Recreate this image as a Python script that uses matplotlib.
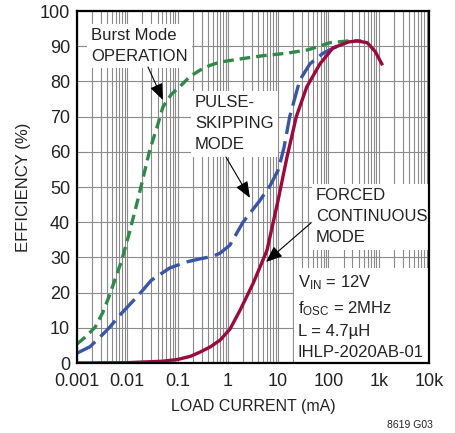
import numpy as np
import matplotlib
matplotlib.use("Agg")
import matplotlib.pyplot as plt

# === data (load current in mA, efficiency in %) ===
burst_x = [0.001, 0.0015, 0.0023, 0.0033, 0.0045, 0.0078, 0.011, 0.0163, 0.028, 0.04, 0.051,
           0.075, 0.112, 0.18, 0.28, 0.45, 0.7, 2, 5, 14.8, 40, 107, 250, 450]
burst_y = [5.4, 7.5, 10.2, 14.5, 19.5, 29.3, 37, 46.5, 60.5, 67.5, 72.7,
           76.3, 78.6, 81.5, 83.2, 84.6, 85.5, 86.5, 87.3, 88, 89, 91, 91.5, 91.5]

pulse_x = [0.001, 0.0018, 0.0029, 0.0045, 0.0071, 0.011, 0.018, 0.03, 0.07, 0.15, 0.28, 0.5,
           0.7, 1.1, 2.0, 4.4, 7, 10, 13, 17, 27, 43, 78, 150]
pulse_y = [2.8, 4.6, 7.4, 10.2, 13.6, 16.5, 19.8, 23.5, 27, 28.7, 29.6, 30.3,
           31.2, 33.5, 40, 46.3, 50.5, 54.8, 61, 70, 80.4, 85, 88, 90]

forced_x = [0.001, 0.01, 0.05, 0.1, 0.18, 0.28, 0.45, 0.7, 1.1, 1.75, 3.2, 6, 10,
            15, 23, 37, 68, 123, 250, 370, 590, 850, 1150]
forced_y = [0, 0.1, 0.5, 1, 1.9, 3.1, 4.6, 6.5, 9.6, 15, 22.7, 32, 46.3,
            58.5, 70, 78.4, 85, 89.5, 91.2, 91.5, 91, 88.5, 85]

xticks = [0.001, 0.01, 0.1, 1, 10, 100, 1000, 10000]
xticklabels = ["0.001", "0.01", "0.1", "1", "10", "100", "1k", "10k"]
yticks = list(range(0, 101, 10))

plt.rcParams["font.family"] = ["Liberation Sans", "DejaVu Sans"]
plt.rcParams["mathtext.fontset"] = "custom"
plt.rcParams["mathtext.rm"] = "Liberation Sans"
plt.rcParams["mathtext.it"] = "Liberation Sans"

fig = plt.figure(figsize=(4.56, 4.33), dpi=100)
ax = fig.add_axes([77 / 456, 70 / 433, 352 / 456, 352 / 433])

ax.set_xscale("log")
ax.set_xlim(0.001, 10000)
ax.set_ylim(0, 100)

# log grid drawn explicitly: each decade with its 2..9 steps, and every 10 %
grid_kw = dict(color="#8a8a8a", linewidth=0.8, zorder=1)
for dec in xticks[:-1]:
    for m in range(1, 10):
        ax.axvline(dec * m, **grid_kw)
for yv in yticks:
    ax.axhline(yv, **grid_kw)

ax.plot(burst_x, burst_y, color="#2f8a4a", lw=2.4, dashes=(3.2, 1.8), zorder=3)
ax.plot(pulse_x, pulse_y, color="#3a55a8", lw=2.4, dashes=(6.5, 2.2), zorder=3)
ax.plot(forced_x, forced_y, color="#9b0a3e", lw=2.4, zorder=4)

ax.set_xticks(xticks)
ax.set_xticklabels(xticklabels)
ax.set_yticks(yticks)
ax.minorticks_off()
ax.tick_params(which="both", length=0, labelsize=13, colors="#222222")
ax.tick_params(axis="x", pad=7)
ax.tick_params(axis="y", pad=5)
for s in ax.spines.values():
    s.set_linewidth(1.6)
    s.set_zorder(6)

ax.set_xlabel("LOAD CURRENT (mA)", fontsize=11.5, color="#222222", labelpad=7)
ax.set_ylabel("EFFICIENCY (%)", fontsize=12, color="#222222", labelpad=6)

box = dict(boxstyle="square,pad=0.25", fc="white", ec="none")
txt_kw = dict(fontsize=12, color="#222222", ha="left", va="center",
              linespacing=1.5, bbox=box, zorder=5)
arr = dict(arrowstyle="-|>,head_length=1.0,head_width=0.4", color="black", lw=0.8,
           shrinkA=0, shrinkB=0)

ax.text(0.00189, 90.0, "Burst Mode\nOPERATION", **txt_kw)
ax.annotate("", xy=(0.0513, 74.7), xytext=(0.0258, 84.1), arrowprops=arr, zorder=6)

ax.text(0.222, 67.9, "PULSE-\nSKIPPING\nMODE", **txt_kw)
ax.annotate("", xy=(2.75, 46.9), xytext=(0.918, 58.5), arrowprops=arr, zorder=6)

ax.text(56.5, 41.5, "FORCED\nCONTINUOUS\nMODE", **txt_kw)
ax.annotate("", xy=(5.73, 28.7), xytext=(45, 39.8), arrowprops=arr, zorder=6)

ax.text(24.8, 13.1,
        "V$_{\\mathrm{IN}}$ = 12V\nf$_{\\mathrm{OSC}}$ = 2MHz\nL = 4.7µH\nIHLP-2020AB-01",
        **txt_kw)

fig.text(410 / 456, 1 - 425 / 433, "8619 G03", fontsize=7.5, color="#222222",
         ha="center", va="center")

fig.savefig("out.png", dpi=100)
